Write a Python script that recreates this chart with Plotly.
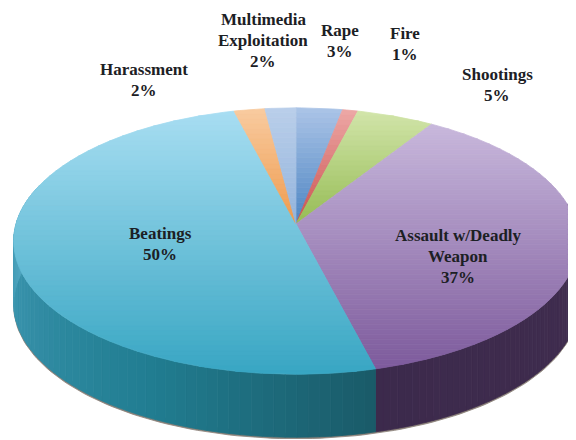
import math
import plotly.graph_objects as go

# ---- data, clockwise from 12 o'clock ----
categories = ["Rape", "Fire", "Shootings", "Assault w/Deadly Weapon", "Beatings", "Harassment", "Multimedia Exploitation"]
values = [3, 1, 5, 37, 50, 2, 2]
label_lines = [["Rape"], ["Fire"], ["Shootings"], ["Assault w/Deadly", "Weapon"], ["Beatings"], ["Harassment"], ["Multimedia", "Exploitation"]]

# ---- styles ----
face_top = ["#ABC4E7", "#EDA8A6", "#D2E5AA", "#C8B8DC", "#A8DEF2", "#F8CBA0", "#BACFEA"]
face_bot = ["#4C84C2", "#C94F4D", "#96BC55", "#7D5A9C", "#38A6C3", "#EF9A4C", "#92B3DC"]
wall_stops = {3: [(0.0, "#3C2A4C"), (0.55, "#3F2C4E"), (1.0, "#4C3F5C")],
              4: [(0.0, "#1A5A68"), (0.35, "#217E92"), (0.75, "#3B94AE"), (1.0, "#5FB2CC")]}
label_x = [340, 405, 497, 458, 160, 144, 263]
label_y = [30, 33, 74, 235, 233, 69, 19]
line_step = 21

CX, CY, RX, A, K, DEPTH = 296, 224, 280, 131, 0.128, 63
BAND = 5
PAGE_INSET = 8  # the page body keeps this margin round the plot


def project(theta, r=1.0, drop=0.0):
    u, v = r * math.sin(theta), r * math.cos(theta)
    d = 1 + K * v
    return CX + RX * u / d, CY - A * v / d + drop


def hex2rgb(h):
    return [int(h[i:i + 2], 16) for i in (1, 3, 5)]


def mix(a, b, t):
    ra, rb = hex2rgb(a), hex2rgb(b)
    return "rgb(%d,%d,%d)" % tuple(round(p + (q - p) * t) for p, q in zip(ra, rb))


def clip(poly, y0, y1):
    def half(pts, keep, cross):
        out = []
        for i, p in enumerate(pts):
            q = pts[(i + 1) % len(pts)]
            if keep(p):
                out.append(p)
            if keep(p) != keep(q):
                t = (cross - p[1]) / (q[1] - p[1])
                out.append((p[0] + (q[0] - p[0]) * t, cross))
        return out
    r = half(poly, lambda p: p[1] >= y0, y0)
    return half(r, lambda p: p[1] <= y1, y1) if r else r


fig = go.Figure()


def add_poly(pts, color):
    xs = [p[0] for p in pts] + [pts[0][0]]
    ys = [p[1] for p in pts] + [pts[0][1]]
    fig.add_trace(go.Scatter(x=xs, y=ys, mode="lines", fill="toself", fillcolor=color,
                             line=dict(color=color, width=0.8), hoverinfo="skip", showlegend=False))


total = sum(values)
edges = [0.0]
for v in values:
    edges.append(edges[-1] + 2 * math.pi * v / total)

# soft shadow under the wall
shadow = [project(t * 2 * math.pi / 240, 1.0, DEPTH + 1.5) for t in range(60, 181)]
shadow += [project(t * 2 * math.pi / 240, 1.0, DEPTH - 4) for t in range(180, 59, -1)]
add_poly(shadow, "#8a8078")

# side wall
for i in (3, 4):
    a0, a1 = max(edges[i], math.pi / 2 * 0.9), min(edges[i + 1], math.pi * 1.6)
    n = 60
    stops = wall_stops[i]
    for k in range(n):
        t0, t1 = a0 + (a1 - a0) * k / n, a0 + (a1 - a0) * (k + 1) / n
        f = (k + 0.5) / n
        if i == 3:
            f = 1 - f
        for (s0, c0), (s1, c1) in zip(stops, stops[1:]):
            if s0 <= f <= s1:
                color = mix(c0, c1, (f - s0) / (s1 - s0))
                break
        add_poly([project(t0), project(t1), project(t1, 1, DEPTH), project(t0, 1, DEPTH)], color)

# top face, shaded in horizontal bands
for i, v in enumerate(values):
    steps = max(4, int(v * 3))
    poly = [(CX, CY)] + [project(edges[i] + (edges[i + 1] - edges[i]) * k / steps) for k in range(steps + 1)]
    ymin, ymax = min(p[1] for p in poly), max(p[1] for p in poly)
    y = ymin
    while y < ymax:
        part = clip(poly, y, y + BAND)
        if len(part) >= 3:
            add_poly(part, mix(face_top[i], face_bot[i], min(1, (y + BAND / 2 - ymin) / (ymax - ymin))))
        y += BAND

# labels
for lines, v, x, y in zip(label_lines, values, label_x, label_y):
    for j, txt in enumerate(lines + [f"{v}%"]):
        fig.add_annotation(x=x, y=y + j * line_step, text=txt, showarrow=False, xanchor="center", yanchor="middle",
                           font=dict(family="Liberation Serif", size=17, color="#1c2024", weight="bold"))

fig.update_layout(width=576 - PAGE_INSET, height=440 - PAGE_INSET, margin=dict(l=0, r=0, t=0, b=0),
                  paper_bgcolor="white", plot_bgcolor="white", showlegend=False,
                  xaxis=dict(range=[PAGE_INSET, 576], visible=False, fixedrange=True),
                  yaxis=dict(range=[440, PAGE_INSET], visible=False, fixedrange=True))
fig.write_html("out.html", config={"displayModeBar": False})
